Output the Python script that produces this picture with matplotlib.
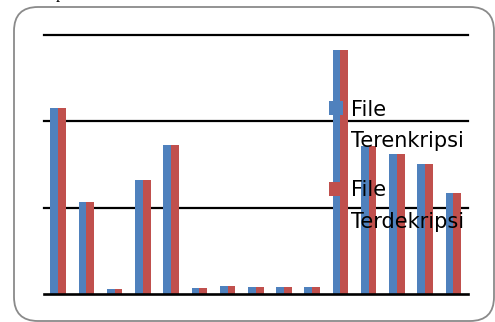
import matplotlib
matplotlib.use("Agg")
import matplotlib.pyplot as plt
from matplotlib.patches import FancyBboxPatch, Rectangle
import numpy as np

# Processing time per test file (same scale for both series)
files = [f"F{i}" for i in range(1, 16)]
encrypted = [2.15, 1.06, 0.06, 1.32, 1.73, 0.07, 0.09, 0.085, 0.08, 0.085,
             2.83, 1.72, 1.62, 1.51, 1.17]
decrypted = [2.15, 1.06, 0.06, 1.32, 1.73, 0.07, 0.09, 0.085, 0.08, 0.085,
             2.83, 1.72, 1.62, 1.51, 1.17]
series_labels = ["File\nTerenkripsi", "File\nTerdekripsi"]
series_colors = ["#4F81BD", "#C0504D"]
grid_values = [0, 1, 2, 3]

W, H = 495, 322
fig = plt.figure(figsize=(W / 100, H / 100), dpi=100)
fig.patch.set_facecolor("white")

# rounded chart frame
frame = FancyBboxPatch((0.14, 0.01), 4.80, 3.14,
                       boxstyle="round,pad=0,rounding_size=0.24",
                       transform=fig.dpi_scale_trans, facecolor="white",
                       edgecolor="#8a8a8a", linewidth=1.3, zorder=-5)
fig.patches.append(frame)

# fragment of the caption line above the chart
fig.text(56 / W, 1 + 1.5 / H, "p", family="Liberation Serif", fontsize=12,
         color="black", va="baseline", ha="left")

ymax = 3.02
ax_left, ax_right = 44 / W, 467.5 / W
ax_bottom = (H - 294) / H
unit = 86.33
ax_top = (H - (294 - ymax * unit)) / H
ax = fig.add_axes([ax_left, ax_bottom, ax_right - ax_left, ax_top - ax_bottom])
ax.set_facecolor("none")
ax.set_zorder(1)

x = np.arange(len(files))
bw = 0.275
ax.bar(x - bw / 2, encrypted, bw, color=series_colors[0], linewidth=0, zorder=3)
ax.bar(x + bw / 2, decrypted, bw, color=series_colors[1], linewidth=0, zorder=3)

for g in grid_values:
    ax.axhline(g, color="black", linewidth=1.6 if g else 1.9,
               zorder=2 if g else 4, clip_on=False)

ax.set_xlim(-0.5, len(files) - 0.5)
ax.set_ylim(0, ymax)
ax.set_xticks([])
ax.set_yticks([])
for s in ax.spines.values():
    s.set_visible(False)

# legend: square marker aligned with the first line of each label
leg_y = [108, 188.5]
for lab, col, yc in zip(series_labels, series_colors, leg_y):
    fig.patches.append(Rectangle((329 / W, (H - yc - 7) / H), 14 / W, 14 / H,
                                 transform=fig.transFigure, facecolor=col,
                                 edgecolor="none", zorder=5))
    first, second = lab.split("\n")
    fig.text(351 / W, (H - (yc + 7.5)) / H, first, family="DejaVu Sans",
             fontsize=15, color="black", va="baseline", ha="left", zorder=6)
    fig.text(351 / W, (H - (yc + 39)) / H, second, family="DejaVu Sans",
             fontsize=15, color="black", va="baseline", ha="left", zorder=6)

fig.savefig("out.png", dpi=100)
